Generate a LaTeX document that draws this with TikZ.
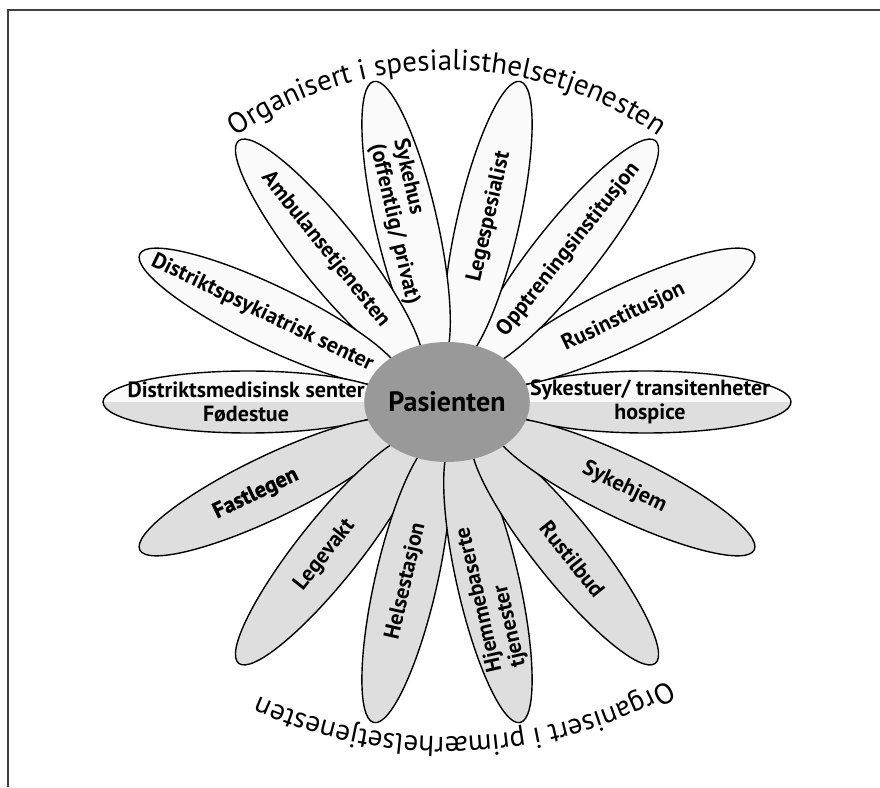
\documentclass[tikz,border=0pt]{standalone}
\usepackage{fontspec}
\setmainfont{PT Sans}
\newfontfamily\heavyfont[BoldFeatures={FakeBold=1.5}]{PT Sans}
\usetikzlibrary{shapes.geometric,decorations.text}
\definecolor{petallight}{gray}{0.98}
\definecolor{petaldark}{gray}{0.87}
\definecolor{heartgray}{gray}{0.6}
\definecolor{framegray}{gray}{0.25}
\newcommand{\labelfont}{\fontsize{22}{24}\selectfont\bfseries}
\newcommand{\arcfont}{\fontsize{29}{29}\selectfont}

\begin{document}
\begin{tikzpicture}[x=1pt,y=1pt,
    petal/.style={ellipse,draw,line width=1.4pt,inner sep=0pt,minimum width=290pt,minimum height=62pt},
    uppetal/.style={petal,fill=petallight},
    lowpetal/.style={petal,fill=petaldark},
    splitpetal/.style={petal,fill=petallight,path picture={\fill[petaldark] (path picture bounding box.west) rectangle (path picture bounding box.south east);}},
    petaltext/.style={font=\labelfont,align=center,inner sep=1pt},
    heart/.style={ellipse,fill=heartgray,minimum width=154pt,minimum height=120pt,inner sep=0pt,font=\fontsize{28}{28}\selectfont\bfseries}]
    \useasboundingbox (0,0) rectangle (880,787);
    \draw[framegray,line width=1.5pt] (8,0) -- (8,777) -- (880,777);
    \begin{scope}[shift={(447,385)}]
        % petals, counter-clockwise from the right
        \foreach \a/\r/\s [count=\i] in {0/0/splitpetal,25.71/25.71/uppetal,51.43/51.43/uppetal,77.14/77.14/uppetal,
                102.86/102.86/uppetal,128.57/128.57/uppetal,154.29/154.29/uppetal,180/0/splitpetal,
                205.71/205.71/lowpetal,231.43/231.43/lowpetal,257.14/257.14/lowpetal,282.86/282.86/lowpetal,
                308.57/308.57/lowpetal,334.29/334.29/lowpetal}
            \node[\s,rotate=\r] (petal\i) at (\a:{191+8*cos(2*\a)}) {};
        % labels
        \node[petaltext,rotate=0] (sykestuer) at (0:203) {Sykestuer/ transitenheter\\hospice};
        \node[petaltext,rotate=25.71] (rusinst) at (25.71:196) {Rusinstitusjon};
        \node[petaltext,rotate=51.43] (opptrening) at (51.43:195) {Opptreningsinstitusjon};
        \node[petaltext,rotate=77.14] (legespes) at (77.14:190) {Legespesialist};
        \node[petaltext,align=left,rotate=-77.14] (sykehus) at (102.86:185) {Sykehus\\(offentlig/ privat)};
        \node[petaltext,rotate=-51.43] (ambulanse) at (128.57:195) {Ambulansetjenesten};
        \node[petaltext,rotate=-25.71] (dps) at (154.29:205) {Distriktspsykiatrisk senter};
        \node[petaltext,rotate=0] (dms) at (180:201) {Distriktsmedisinsk senter\\Fødestue};
        \node[petaltext,font=\heavyfont\labelfont,rotate=25.71] (fastlegen) at (205.71:212) {Fastlegen};
        \node[petaltext,rotate=51.43] (legevakt) at (231.43:196) {Legevakt};
        \node[petaltext,rotate=77.14] (helsestasjon) at (257.14:184) {Helsestasjon};
        \node[petaltext,align=left,rotate=102.86] (hjemme) at (282.86:200) {Hjemmebaserte\\tjenester};
        \node[petaltext,rotate=-51.43] (rustilbud) at (308.57:201) {Rustilbud};
        \node[petaltext,rotate=-25.71] (sykehjem) at (334.29:197) {Sykehjem};
        % centre
        \node[heart] (pasienten) at (0,0) {Pasienten};
        % texts round the flower
        \path[decorate,decoration={text along path,text align=center,
                text={|\arcfont|Organisert i spesialisthelsetjenesten}}]
            plot[smooth,domain=127:53,samples=38] ({370*cos(\x)},{-38+370*sin(\x)});
        \path[decorate,decoration={text along path,text align=center,
                text={|\arcfont|Organisert i primærhelsetjenesten}}]
            plot[smooth,domain=-59:-116.4,samples=30] ({457*cos(\x)},{122+457*sin(\x)});
    \end{scope}
\end{tikzpicture}
\end{document}
